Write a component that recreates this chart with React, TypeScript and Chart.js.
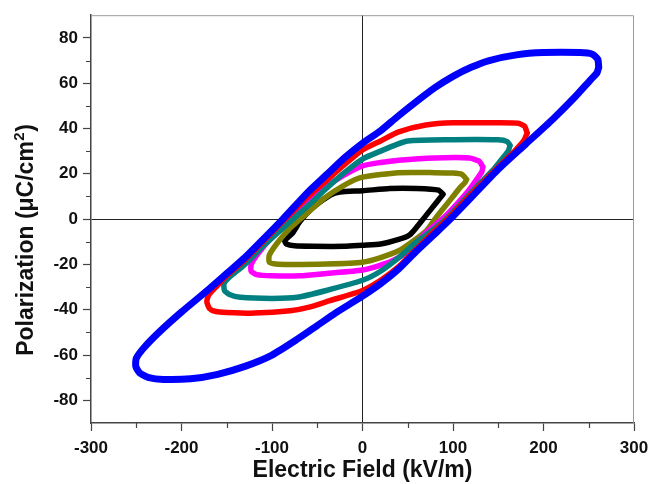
import React, { useEffect, useRef } from "react";
import { Chart, registerables } from "chart.js";

Chart.register(...registerables);

// Electric field (kV/m), Polarization (µC/cm²) pairs for each closed P–E loop
const blueLoop: number[][] = [
  [261, 67], [260, 70.5], [254, 72.8], [240, 73.5], [200, 73.5], [170, 72.5], [140, 70], [120, 67], [100, 63],
  [80, 58], [60, 52], [38, 45], [20, 39], [0, 33.5], [-20, 27], [-40, 19.5], [-60, 12], [-88, 0],
  [-110, -9], [-130, -17], [-150, -24], [-170, -31], [-200, -41], [-225, -50], [-242, -57], [-250, -61.5],
  [-250.5, -65], [-246, -68], [-236, -70], [-220, -70.8], [-190, -70.5], [-160, -68.5], [-130, -65], [-100, -60],
  [-72, -53], [-50, -47], [-30, -41.5], [0, -34], [20, -28.5], [40, -22], [60, -14], [80, -6.5],
  [97, 0], [120, 9.5], [150, 22], [180, 33], [210, 44], [235, 54], [252, 61.5], [259, 64.5], [261, 67],
];
const redLoop: number[][] = [
  [182, 38], [179, 41], [172, 42.3], [150, 42.5], [100, 42.5], [70, 41.5], [40, 38.5], [20, 34.5], [0, 30.5],
  [-20, 24], [-40, 17], [-60, 10], [-88, -1], [-110, -10], [-130, -18], [-150, -25], [-162, -30],
  [-170, -33.5], [-172, -36.5], [-169, -39.5], [-162, -40.8], [-150, -41.2], [-120, -41.5], [-80, -40.5], [-60, -39],
  [-36, -36], [0, -31.5], [20, -27], [40, -21], [60, -13], [80, -5], [95, 0.5], [120, 11],
  [150, 23], [168, 30], [178, 34.5], [182, 38],
];
const tealLoop: number[][] = [
  [163, 32.5], [160, 34.2], [150, 35], [90, 35], [50, 34.5], [38, 33], [20, 30], [0, 26.5],
  [-20, 20.5], [-40, 13.5], [-60, 6], [-88, -4], [-110, -12], [-130, -20], [-148, -26], [-153, -28.5],
  [-152.5, -31.5], [-147, -33.3], [-135, -34.5], [-100, -35], [-72, -34.5], [-40, -31.5], [0, -27],
  [20, -23], [40, -17], [60, -10], [80, -4], [92, 0], [110, 7.5], [130, 16], [145, 22], [155, 27],
  [161, 30], [163, 32.5],
];
const magentaLoop: number[][] = [
  [133, 23], [129, 25.5], [118, 27], [80, 27], [40, 26], [20, 25], [0, 23.5], [-20, 19.5],
  [-43, 13.5], [-60, 7.5], [-80, 0], [-100, -8], [-115, -15], [-123, -20], [-123, -23],
  [-117, -24.5], [-100, -25], [-69, -25], [-40, -24], [0, -22.5], [30, -19], [50, -14.5],
  [70, -6], [88, 0], [105, 7], [118, 13], [127, 18], [132, 21], [133, 23],
];
const oliveLoop: number[][] = [
  [115, 17.5], [110, 19.7], [100, 20.3], [80, 20.5], [40, 20.5], [0, 18.5], [-20, 15], [-43, 9], [-60, 3],
  [-80, -4], [-95, -11], [-103, -16], [-103, -19], [-96, -19.8], [-80, -20], [-40, -19.8],
  [0, -19], [20, -17], [40, -14], [55, -10], [71, -5], [80, 0], [90, 5], [100, 10], [108, 14],
  [113, 16], [115, 17.5],
];
const blackLoop: number[][] = [
  [89, 11], [84, 12.8], [60, 13.5], [30, 13.5], [0, 12.5], [-25, 12], [-36, 10.5], [-55, 5],
  [-69, -1], [-77, -6], [-86, -9.5], [-84, -11], [-75, -11.8], [-55, -12], [-20, -12],
  [0, -11.5], [20, -11], [40, -9], [52, -7], [60, -3.5], [67, 0], [78, 5.5], [85, 9], [89, 11],
];

const loops = [blueLoop, redLoop, tealLoop, magentaLoop, oliveLoop, blackLoop];
const loopColors = ["#0000ff", "#ff0000", "#008080", "#ff00ff", "#808000", "#000000"];
const loopWidths = [7, 5.5, 5.5, 5.5, 5.5, 5.5];

const xTicks = [-300, -200, -100, 0, 100, 200, 300];
const xMinorTicks = [-250, -150, -50, 50, 150, 250];
const yTicks = [-80, -60, -40, -20, 0, 20, 40, 60, 80];
const yMinorTicks = [-70, -50, -30, -10, 10, 30, 50, 70];

const xTitle = "Electric Field (kV/m)";
const yTitleMain = "Polarization (\u03bcC/cm";
const yTitleSup = "2";
const yTitleEnd = ")";

const FAMILY = "'Liberation Sans', Arial, Helvetica, sans-serif";

const framePlugin = {
  id: "frameAndMinor",
  beforeDatasetsDraw(chart: any) {
    const { ctx, chartArea } = chart;
    ctx.save();
    ctx.strokeStyle = "#9a9a9a";
    ctx.lineWidth = 1;
    ctx.beginPath();
    ctx.moveTo(chartArea.left, chartArea.top + 0.5);
    ctx.lineTo(chartArea.right - 0.5, chartArea.top + 0.5);
    ctx.lineTo(chartArea.right - 0.5, chartArea.bottom);
    ctx.stroke();
    ctx.restore();
  },
  afterDraw(chart: any) {
    const { ctx, chartArea, scales } = chart;
    ctx.save();
    ctx.strokeStyle = "#444";
    ctx.lineWidth = 1.2;
    ctx.beginPath();
    for (const v of yMinorTicks) {
      const py = Math.round(scales.y.getPixelForValue(v)) + 0.5;
      ctx.moveTo(chartArea.left - 5, py);
      ctx.lineTo(chartArea.left, py);
    }
    for (const v of xMinorTicks) {
      const px = Math.round(scales.x.getPixelForValue(v)) + 0.5;
      ctx.moveTo(px, chartArea.bottom);
      ctx.lineTo(px, chartArea.bottom + 5);
    }
    ctx.stroke();

    // y-axis title with superscript
    ctx.fillStyle = "#111";
    ctx.translate(25, 240);
    ctx.rotate(-Math.PI / 2);
    ctx.textBaseline = "alphabetic";
    ctx.textAlign = "left";
    const mainFont = `bold 23px ${FAMILY}`;
    const supFont = `bold 15px ${FAMILY}`;
    ctx.font = mainFont;
    const w1 = ctx.measureText(yTitleMain).width;
    const w3 = ctx.measureText(yTitleEnd).width;
    ctx.font = supFont;
    const w2 = ctx.measureText(yTitleSup).width;
    const total = w1 + w2 + w3 + 1;
    let x0 = -total / 2;
    ctx.font = mainFont;
    ctx.fillText(yTitleMain, x0, 8);
    x0 += w1;
    ctx.font = supFont;
    ctx.fillText(yTitleSup, x0 + 0.5, -1.5);
    x0 += w2 + 1;
    ctx.font = mainFont;
    ctx.fillText(yTitleEnd, x0, 8);
    ctx.restore();
  },
};

export default function App() {
  const canvasRef = useRef<HTMLCanvasElement | null>(null);

  useEffect(() => {
    const canvas = canvasRef.current;
    if (!canvas) return;
    const tickFont = { family: FAMILY, size: 17, weight: "bold" as const };
    const gridColor = (c: any) => (c.tick && c.tick.value === 0 ? "#222" : "rgba(0,0,0,0)");
    const chart = new Chart(canvas, {
      type: "scatter",
      data: {
        datasets: loops.map((loop, i) => ({
          label: `loop${i}`,
          data: loop.map(([e, p]) => ({ x: e, y: p })),
          showLine: true,
          borderColor: loopColors[i],
          backgroundColor: loopColors[i],
          borderWidth: loopWidths[i],
          pointRadius: 0,
          tension: 0.2,
          borderJoinStyle: "round" as const,
          borderCapStyle: "round" as const,
          fill: false,
        })),
      },
      options: {
        animation: false,
        responsive: false,
        maintainAspectRatio: false,
        layout: { padding: { left: 0, right: 26, top: 14, bottom: 0 } },
        plugins: { legend: { display: false }, tooltip: { enabled: false } },
        scales: {
          x: {
            type: "linear",
            min: -300,
            max: 300,
            afterBuildTicks: (s: any) => {
              s.ticks = xTicks.map((v) => ({ value: v }));
            },
            afterFit: (s: any) => {
              s.height = 61;
            },
            ticks: { font: tickFont, color: "#111", padding: 7, maxRotation: 0, autoSkip: false },
            grid: { color: gridColor, lineWidth: 1, drawTicks: true, tickLength: 8, tickColor: "#444", tickWidth: 1.2 },
            border: { color: "#444", width: 1.5 },
            title: {
              display: true,
              text: xTitle,
              color: "#111",
              font: { family: FAMILY, size: 23, weight: "bold" },
              padding: { top: 0, bottom: 0 },
            },
          },
          y: {
            type: "linear",
            min: -90,
            max: 90,
            afterBuildTicks: (s: any) => {
              s.ticks = yTicks.map((v) => ({ value: v }));
            },
            afterFit: (s: any) => {
              s.width = 91;
            },
            ticks: { font: tickFont, color: "#111", padding: 5, autoSkip: false },
            grid: { color: gridColor, lineWidth: 1, drawTicks: true, tickLength: 8, tickColor: "#444", tickWidth: 1.2 },
            border: { color: "#444", width: 1.5 },
            title: { display: false },
          },
        },
      },
      plugins: [framePlugin],
    });
    return () => chart.destroy();
  }, []);

  return (
    <div style={{ position: "absolute", left: 0, top: 0, width: 660, height: 484, background: "#fff" }}>
      <canvas ref={canvasRef} width={660} height={484} style={{ display: "block" }} />
    </div>
  );
}
